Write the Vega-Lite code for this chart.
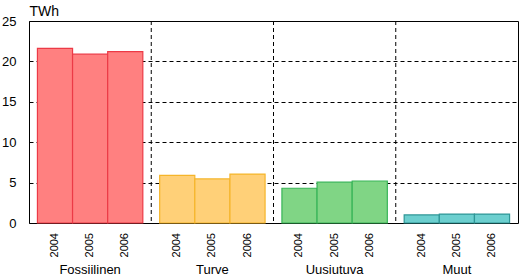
{
  "$schema": "https://vega.github.io/schema/vega-lite/v6.json",
  "autosize": {"type": "none"},
  "width": 489,
  "height": 202,
  "padding": {"left": 29, "top": 21, "right": 1, "bottom": 56},
  "config": {
    "font": "Liberation Sans",
    "view": {"stroke": "#000000", "strokeWidth": 1}
  },
  "data": {
    "values": [
      {"lahde": "Fossiilinen", "vuosi": "2004", "twh": 21.6},
      {"lahde": "Fossiilinen", "vuosi": "2005", "twh": 20.9},
      {"lahde": "Fossiilinen", "vuosi": "2006", "twh": 21.2},
      {"lahde": "Turve", "vuosi": "2004", "twh": 5.9},
      {"lahde": "Turve", "vuosi": "2005", "twh": 5.45},
      {"lahde": "Turve", "vuosi": "2006", "twh": 6.05},
      {"lahde": "Uusiutuva", "vuosi": "2004", "twh": 4.3},
      {"lahde": "Uusiutuva", "vuosi": "2005", "twh": 5.05},
      {"lahde": "Uusiutuva", "vuosi": "2006", "twh": 5.2},
      {"lahde": "Muut", "vuosi": "2004", "twh": 1.0},
      {"lahde": "Muut", "vuosi": "2005", "twh": 1.1},
      {"lahde": "Muut", "vuosi": "2006", "twh": 1.1}
    ]
  },
  "layer": [
    {
      "mark": {"type": "bar", "strokeWidth": 1.2, "fillOpacity": 1},
      "encoding": {
        "x": {
          "field": "lahde", "type": "nominal",
          "sort": ["Fossiilinen", "Turve", "Uusiutuva", "Muut"],
          "scale": {"paddingInner": 0, "paddingOuter": 0},
          "axis": {
            "title": null, "labelAngle": 0, "ticks": false, "domain": false,
            "labelFontSize": 13, "labelColor": "#000000", "labelPadding": 40,
            "labelBaseline": "top", "grid": false
          }
        },
        "xOffset": {
          "field": "vuosi", "type": "nominal",
          "scale": {"paddingInner": 0, "paddingOuter": 0.24}
        },
        "y": {
          "field": "twh", "type": "quantitative",
          "scale": {"domain": [0, 25], "nice": false},
          "axis": {
            "values": [0, 5, 10, 15, 20, 25],
            "title": "TWh", "titleAngle": 0, "titleAlign": "left",
            "titleX": 0, "titleY": -6, "titleBaseline": "alphabetic",
            "titleFontSize": 14, "titleFontWeight": "normal", "titleColor": "#000000",
            "labelFontSize": 13, "labelColor": "#000000", "labelPadding": 13,
            "ticks": false, "domain": false,
            "grid": true, "gridColor": "#000000", "gridDash": [4, 3], "gridOpacity": 1
          }
        },
        "fill": {
          "field": "lahde", "type": "nominal", "legend": null,
          "scale": {"domain": ["Fossiilinen", "Turve", "Uusiutuva", "Muut"],
                    "range": ["#ff8080", "#ffd078", "#80d585", "#6ccfcf"]}
        },
        "stroke": {
          "field": "lahde", "type": "nominal", "legend": null,
          "scale": {"domain": ["Fossiilinen", "Turve", "Uusiutuva", "Muut"],
                    "range": ["#ec3a46", "#f5b52a", "#38b558", "#2e9696"]}
        }
      }
    },
    {
      "mark": {"type": "text", "angle": 270, "align": "right", "baseline": "middle", "dx": -10, "fontSize": 11, "color": "#000000"},
      "encoding": {
        "x": {"field": "lahde", "type": "nominal", "sort": ["Fossiilinen", "Turve", "Uusiutuva", "Muut"]},
        "xOffset": {"field": "vuosi", "type": "nominal"},
        "y": {"datum": 0},
        "text": {"field": "vuosi"}
      }
    },
    {
      "transform": [{"filter": "datum.vuosi == '2004' && datum.lahde != 'Fossiilinen'"}],
      "mark": {"type": "rule", "strokeDash": [4, 3], "color": "#000000", "strokeWidth": 1},
      "encoding": {
        "x": {"field": "lahde", "type": "nominal", "sort": ["Fossiilinen", "Turve", "Uusiutuva", "Muut"], "bandPosition": 0}
      }
    }
  ]
}
